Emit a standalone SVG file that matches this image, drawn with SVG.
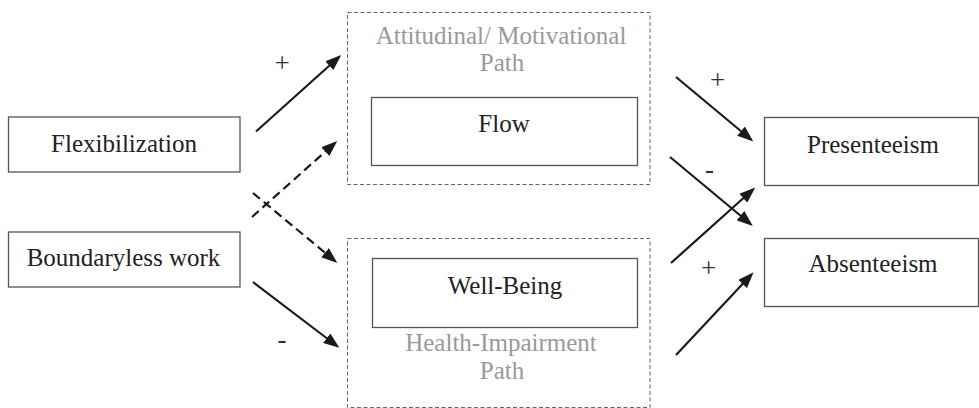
<svg xmlns="http://www.w3.org/2000/svg" width="979" height="408" viewBox="0 0 979 408">
<style>
  .box { fill: #fff; stroke: #555; stroke-width: 1.3; }
  .path { fill: none; stroke: #666; stroke-width: 1; stroke-dasharray: 4 2.5; }
  .lbl { font-family: "Liberation Serif", "Times New Roman", serif; font-size: 25px; fill: #222; text-anchor: middle; }
  .gray { font-family: "Liberation Serif", "Times New Roman", serif; font-size: 25px; fill: #999; text-anchor: middle; }
  .sign { font-family: "Liberation Serif", "Times New Roman", serif; font-size: 27px; fill: #333; text-anchor: middle; }
  .arr { stroke: #1a1a1a; stroke-width: 2.2; fill: none; marker-end: url(#ah); }
  .dash { stroke-dasharray: 9 5; }
</style>
<defs>
  <marker id="ah" markerUnits="userSpaceOnUse" markerWidth="16" markerHeight="12" viewBox="0 0 16 12" refX="13" refY="6" orient="auto">
    <path d="M0,0 L16,6 L0,12 z" fill="#1a1a1a"/>
  </marker>
</defs>
<g id="attitudinal-path">
  <rect class="path" x="347.5" y="12.5" width="302.5" height="172"/>
  <text class="gray" x="501" y="44">Attitudinal/ Motivational</text>
  <text class="gray" x="502" y="71">Path</text>
</g>
<g id="health-path">
  <rect class="path" x="347.5" y="238.5" width="302.5" height="169"/>
  <text class="gray" x="501" y="351">Health-Impairment</text>
  <text class="gray" x="502" y="379">Path</text>
</g>
<g id="flexibilization">
  <rect class="box" x="8.5" y="117" width="231.5" height="55"/>
  <text class="lbl" x="124" y="152">Flexibilization</text>
</g>
<g id="boundaryless">
  <rect class="box" x="8.5" y="232" width="231.5" height="55"/>
  <text class="lbl" x="123.5" y="265.5">Boundaryless work</text>
</g>
<g id="flow">
  <rect class="box" x="371.5" y="97.5" width="266" height="68"/>
  <text class="lbl" x="504" y="131.5">Flow</text>
</g>
<g id="wellbeing">
  <rect class="box" x="372.5" y="258.5" width="265" height="69"/>
  <text class="lbl" x="505" y="294">Well-Being</text>
</g>
<g id="presenteeism">
  <rect class="box" x="764.5" y="117.5" width="214" height="68"/>
  <text class="lbl" x="873" y="153">Presenteeism</text>
</g>
<g id="absenteeism">
  <rect class="box" x="764.5" y="238.5" width="214" height="68"/>
  <text class="lbl" x="873" y="272">Absenteeism</text>
</g>
<g id="connectors">
  <line class="arr" x1="256" y1="131.5" x2="339" y2="57"/>
  <line class="arr dash" x1="252" y1="217" x2="335" y2="143"/>
  <line class="arr dash" x1="253" y1="193" x2="335" y2="261"/>
  <line class="arr" x1="253" y1="282" x2="337" y2="346"/>
  <line class="arr" x1="676" y1="77" x2="751" y2="139.5"/>
  <line class="arr" x1="670" y1="157" x2="750.5" y2="224"/>
  <line class="arr" x1="671" y1="263" x2="753" y2="189.5"/>
  <line class="arr" x1="676" y1="355" x2="751.5" y2="274.5"/>
  <text class="sign" x="282" y="71.5">+</text>
  <text class="sign" x="282" y="348">-</text>
  <text class="sign" x="717.5" y="89">+</text>
  <text class="sign" x="709.5" y="178">-</text>
  <text class="sign" x="708.5" y="277">+</text>
</g>
</svg>
